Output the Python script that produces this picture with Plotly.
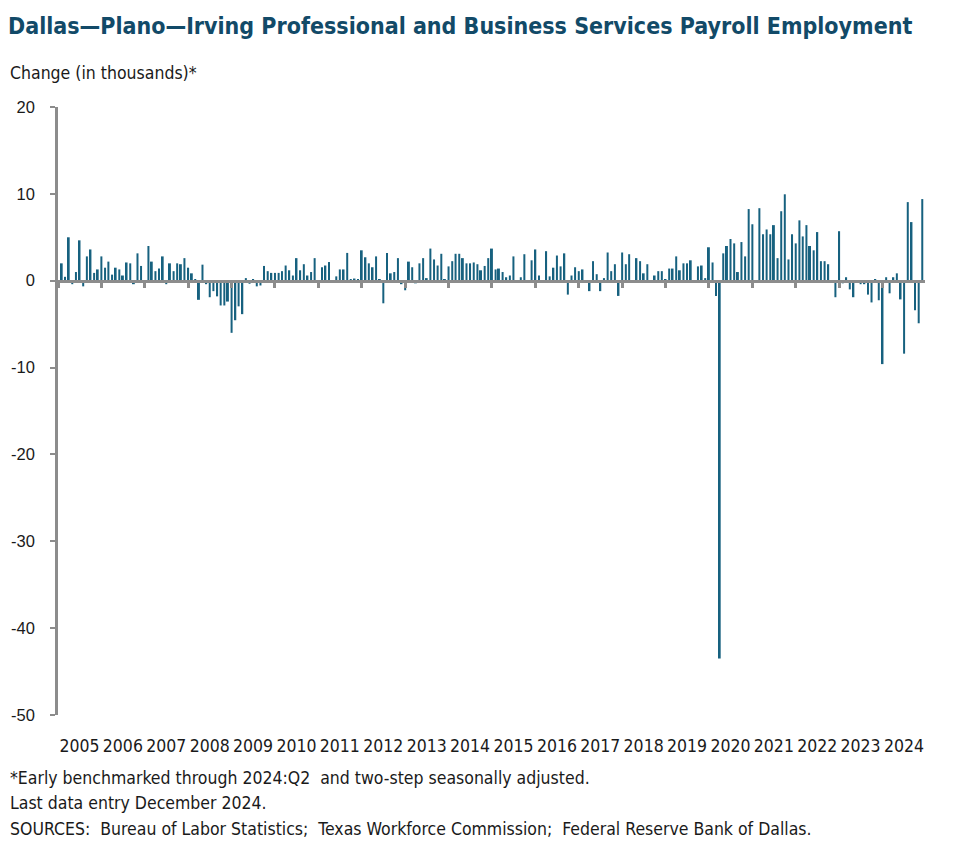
import pandas as pd
import plotly.graph_objects as go

# Monthly change, Feb 2005 - Dec 2024 (thousands)
values = [
    2.0, 0.45, 5.0, -0.4, 1.0, 4.65, -0.65, 2.8, 3.6, 0.9, 1.3,            # 2005 Feb-Dec
    2.8, 1.5, 2.2, 0.7, 1.5, 1.3, 0.6, 2.1, 2.0, -0.4, 3.15, 1.7,          # 2006
    -0.5, 4.0, 2.2, 1.1, 1.4, 2.8, -0.4, 2.0, 1.1, 2.0, 1.9, 2.6,          # 2007
    1.5, 0.85, 0.1, -2.2, 1.85, -0.4, -1.9, -1.2, -1.8, -2.85, -2.85, -2.4,  # 2008
    -6.0, -4.55, -2.95, -3.85, 0.3, -0.35, 0.2, -0.65, -0.55, 1.7, 1.1, 0.9,  # 2009
    0.9, 0.9, 1.1, 1.75, 1.2, 0.6, 2.6, 1.2, 1.9, 0.6, 1.0, 2.6,           # 2010
    -0.3, 1.55, 1.75, 2.15, -0.2, 0.5, 1.3, 1.3, 3.2, 0.1, 0.25, 0.15,     # 2011
    3.5, 2.7, 2.0, 1.55, 2.8, 0.1, -2.6, 3.2, 0.85, 1.0, 2.6, -0.4,        # 2012
    -1.1, 2.2, 1.55, -0.3, 2.0, 2.6, 0.3, 3.7, 2.45, 1.75, 3.1, 0.1,       # 2013
    1.65, 2.25, 3.1, 3.1, 2.6, 2.0, 2.0, 2.1, 1.9, 1.2, 1.7, 2.6,          # 2014
    3.7, 1.3, 1.4, 1.0, 0.4, 0.6, 2.8, 0.05, 0.4, 3.05, 0.05, 2.35,        # 2015
    3.6, 0.6, 0.05, 3.4, 0.5, 1.5, 2.9, 1.65, 3.15, -1.6, 0.6, 1.55,       # 2016
    1.1, 1.3, 0.05, -1.2, 2.25, 0.75, -1.2, 0.3, 3.25, 1.1, 1.9, -1.75,    # 2017
    3.25, 1.9, 3.05, 0.05, 2.6, 2.25, 0.85, 1.9, 0.05, 0.6, 1.1, 1.1,      # 2018
    0.15, 1.4, 1.4, 2.8, 1.2, 2.0, 2.0, 2.35, 0.05, 1.65, 1.75, 0.3,       # 2019
    3.85, 2.1, -1.75, -43.5, 3.15, 4.0, 4.8, 4.3, 1.0, 4.45, 2.8, 8.25,    # 2020
    6.5, 0.05, 8.35, 5.35, 5.9, 5.35, 6.4, 2.6, 8.0, 9.95, 2.45, 5.35,     # 2021
    4.3, 6.95, 5.1, 6.4, 4.0, 3.5, 5.6, 2.25, 2.25, 1.9, 0.05, -1.9,       # 2022
    5.7, -0.3, 0.4, -1.0, -1.9, 0.05, -0.4, -0.4, -1.6, -2.5, 0.15, -2.25, # 2023
    -9.6, 0.4, -1.45, 0.4, 0.85, -2.15, -8.4, 9.05, 6.75, -3.4, -4.9, 9.4, # 2024
]
months = pd.date_range("2005-02-01", "2024-12-01", freq="MS")
assert len(months) == len(values)

years = list(range(2005, 2025))
y_ticks = [20, 10, 0, -10, -20, -30, -40, -50]
y_tick_labels = [str(v) for v in y_ticks]

title = "Dallas\u2014Plano\u2014Irving Professional and Business Services Payroll Employment"
y_title = "Change (in thousands)*"
notes = [
    "*Early benchmarked through 2024:Q2  and two-step seasonally adjusted.",
    "Last data entry December 2024.",
    "SOURCES:  Bureau of Labor Statistics;  Texas Workforce Commission;  Federal Reserve Bank of Dallas.",
]

BAR = "#17617f"
AXIS = "#8c8c8c"
COND = "DejaVu Sans Condensed"
TXT = "#1a1a1a"

OFF = 8  # default page body margin
W, H = 977 - 2 * OFF, 864 - 2 * OFF
ML = 58 - OFF
MT = 107 - OFF
MR = W - (925 - OFF)
MB = H - (715 - OFF)
plot_h = H - MT - MB
plot_w = W - ML - MR


def py(page_y):  # page pixel y -> paper y
    return (H - MB - (page_y - OFF)) / plot_h


def px_x(page_x):
    return ((page_x - OFF) - ML) / plot_w


fig = go.Figure()
fig.add_trace(go.Bar(x=months, y=values, marker=dict(color=BAR, line=dict(width=0)),
                     hoverinfo="x+y"))
# dummy trace for the zero-line axis with year tick marks
fig.add_trace(go.Scatter(x=[months[0]], y=[0], xaxis="x2", mode="markers",
                         marker=dict(opacity=0), hoverinfo="skip", showlegend=False))

xr = ["2005-01-01", "2024-12-24"]
ymin, ymax = min(y_ticks), max(y_ticks)
fig.update_layout(
    width=W, height=H,
    margin=dict(l=ML, r=MR, t=MT, b=MB, autoexpand=False),
    paper_bgcolor="white", plot_bgcolor="white",
    showlegend=False, bargap=0.4,
    title=dict(text=title, x=0, xanchor="left", xref="container",
               y=1 - (26 - OFF) / H, yanchor="middle", yref="container", automargin=False,
               font=dict(family=COND, size=23, color="#124a68", weight="bold")),
    xaxis=dict(type="date", range=xr, tickvals=[f"{y}-07-01" for y in years],
               ticktext=[str(y) for y in years], ticks="", showline=False,
               showgrid=False, zeroline=False, tickangle=0, automargin=False,
               tickfont=dict(family=COND, size=17.5, color=TXT),
               ticklabelstandoff=18),
    xaxis2=dict(type="date", overlaying="x", matches="x", anchor="free",
                position=(0 - ymin) / (ymax - ymin), side="bottom", automargin=False,
                tickvals=[f"{y}-01-01" for y in years] + ["2025-01-01"],
                showticklabels=False, ticks="outside", ticklen=6, tickwidth=2.5,
                tickcolor=AXIS, showline=True, linecolor=AXIS, linewidth=2.5,
                showgrid=False, zeroline=False),
    yaxis=dict(range=[ymin, ymax], tickvals=y_ticks, ticktext=y_tick_labels,
               ticks="outside", ticklen=5,
               tickwidth=1.5, tickcolor=AXIS, showline=True, linecolor=AXIS,
               linewidth=2.5, showgrid=False, zeroline=False, automargin=False,
               tickfont=dict(family="Liberation Sans", size=16.5, color=TXT),
               ticklabelstandoff=12),
)

fig.add_annotation(text=y_title, xref="paper", yref="paper", x=px_x(8), y=py(73),
                   xanchor="left", yanchor="middle", showarrow=False,
                   font=dict(family=COND, size=17.5, color=TXT))
for line, ypx in zip(notes, [778, 803, 829]):
    fig.add_annotation(text=line, xref="paper", yref="paper", x=px_x(8), y=py(ypx),
                       xanchor="left", yanchor="middle", showarrow=False,
                       font=dict(family=COND, size=17.5, color=TXT))

fig.write_html("out.html")
